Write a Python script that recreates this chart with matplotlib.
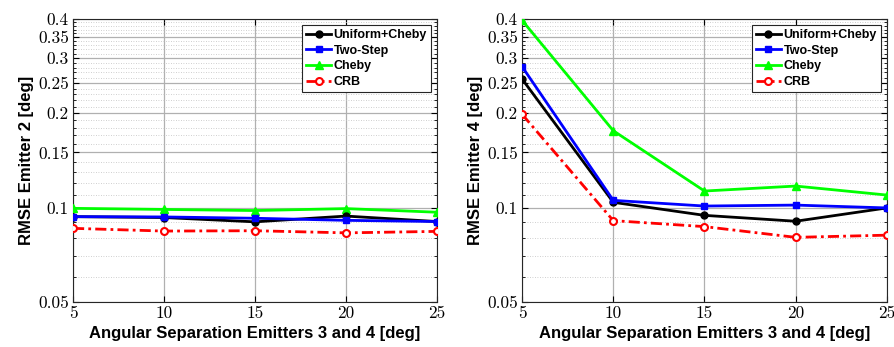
import numpy as np
import matplotlib
matplotlib.use("Agg")
import matplotlib.pyplot as plt
from matplotlib.ticker import FixedLocator, NullFormatter, FixedFormatter

sep = [5, 10, 15, 20, 25]

e2_uniform = [0.0936, 0.0930, 0.0901, 0.0940, 0.0903]
e2_twostep = [0.0936, 0.0934, 0.0925, 0.0911, 0.0903]
e2_cheby = [0.0995, 0.0987, 0.0979, 0.0993, 0.0967]
e2_crb = [0.0859, 0.0842, 0.0844, 0.0831, 0.0840]

e4_uniform = [0.2573, 0.1040, 0.0945, 0.0905, 0.0998]
e4_twostep = [0.2818, 0.1055, 0.1012, 0.1019, 0.0998]
e4_cheby = [0.396, 0.176, 0.113, 0.1172, 0.1097]
e4_crb = [0.1986, 0.0909, 0.0870, 0.0804, 0.0817]

yticks = [0.05, 0.1, 0.15, 0.2, 0.25, 0.3, 0.35, 0.4]
ytick_labels = ["0.05", "0.1", "0.15", "0.2", "0.25", "0.3", "0.35", "0.4"]
labels = ["Uniform+Cheby", "Two-Step", "Cheby", "CRB"]
ylabels = ["RMSE Emitter 2 [deg]", "RMSE Emitter 4 [deg]"]
xlabel = "Angular Separation Emitters 3 and 4 [deg]"

fig = plt.figure(figsize=(8.94, 3.47), dpi=100)
axes = [fig.add_axes([0.0817, 0.1297, 0.407, 0.8156]),
        fig.add_axes([0.584, 0.1297, 0.408, 0.8156])]

data = [(e2_uniform, e2_twostep, e2_cheby, e2_crb),
        (e4_uniform, e4_twostep, e4_cheby, e4_crb)]

minor = [round(v, 2) for v in np.arange(0.06, 0.40, 0.01)]
minor = [v for v in minor if all(abs(v - t) > 1e-6 for t in yticks)]

for ax, d, yl in zip(axes, data, ylabels):
    u, t, c, r = d
    ax.plot(sep, u, color="black", lw=2, marker="o", ms=5, label=labels[0], zorder=5)
    ax.plot(sep, t, color="blue", lw=2, marker="s", ms=5, label=labels[1], zorder=5)
    ax.plot(sep, c, color="#00ff00", lw=2, marker="^", ms=6, label=labels[2], zorder=4)
    ax.plot(sep, r, color="red", lw=2, ls=(0, (4, 1.5, 1, 1.5)), marker="o", ms=5,
            mfc="white", mec="red", mew=1.5, label=labels[3], zorder=5)
    ax.set_yscale("log")
    ax.set_ylim(0.05, 0.4)
    ax.set_xlim(5, 25)
    ax.set_xticks(sep)
    ax.yaxis.set_major_locator(FixedLocator(yticks))
    ax.yaxis.set_major_formatter(FixedFormatter(ytick_labels))
    ax.yaxis.set_minor_locator(FixedLocator(minor))
    ax.yaxis.set_minor_formatter(NullFormatter())
    ax.grid(True, which="major", color="#b0b0b0", lw=0.9)
    ax.grid(True, which="minor", axis="y", color="#c0c0c0", lw=0.6, ls=(0, (1, 2)))
    ax.tick_params(which="both", direction="in", top=True, right=True)
    ax.tick_params(which="major", length=4, labelsize=12.5, pad=3)
    ax.tick_params(which="minor", length=2)
    for lab in ax.get_xticklabels() + ax.get_yticklabels():
        lab.set_fontfamily("cmr10")
    for s in ax.spines.values():
        s.set_color("#262626")
    ax.set_xlabel(xlabel, fontsize=12, fontweight="bold", family="Liberation Sans", labelpad=3)
    ax.set_ylabel(yl, fontsize=12, fontweight="bold", family="Liberation Sans", labelpad=3)
    leg = ax.legend(loc="upper right", fancybox=False, framealpha=1, edgecolor="#262626",
                    prop={"family": "Liberation Sans", "weight": "bold", "size": 9},
                    handlelength=2.0, handletextpad=0.2, borderpad=0.3, labelspacing=0.3,
                    borderaxespad=0.5)
    leg.get_frame().set_linewidth(0.8)

fig.savefig("out.png", dpi=100)
